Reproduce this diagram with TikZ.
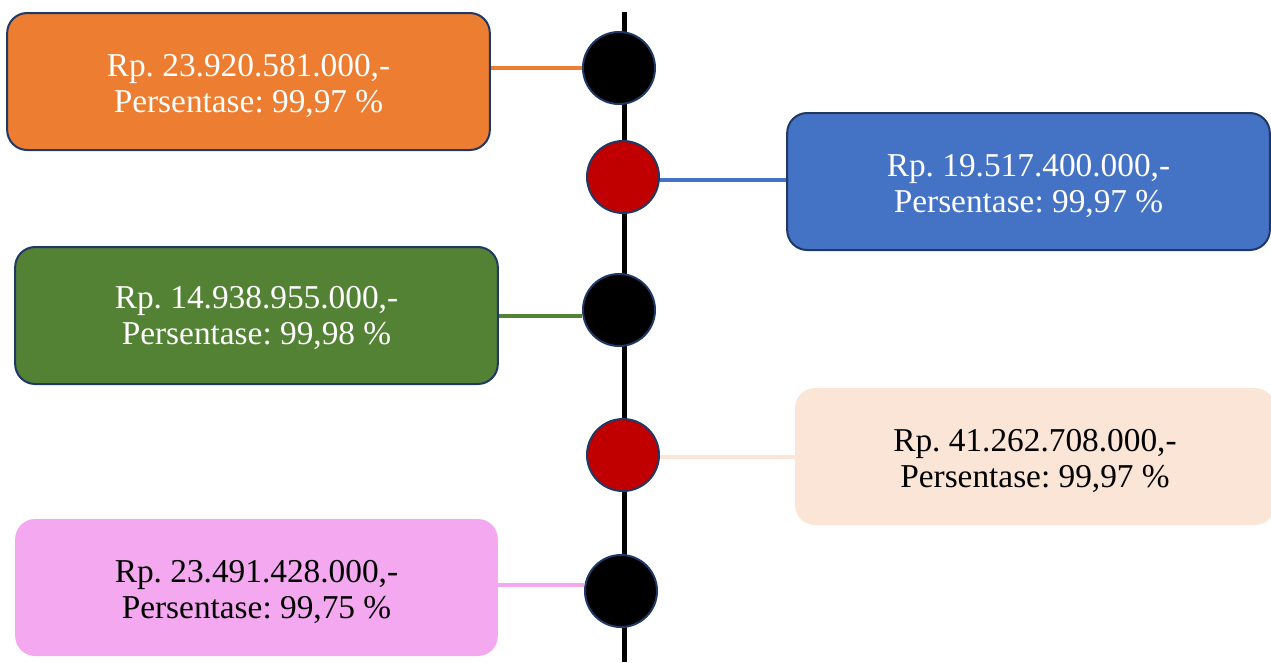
\documentclass[tikz,border=0pt]{standalone}
\usepackage{fontspec}
\setmainfont{Liberation Serif}
\frenchspacing
\usetikzlibrary{backgrounds}
\definecolor{borange}{HTML}{ED7D31}
\definecolor{bblue}{HTML}{4472C4}
\definecolor{bgreen}{HTML}{548235}
\definecolor{bpeach}{HTML}{FBE5D6}
\definecolor{bpink}{HTML}{F4A8F0}
\definecolor{navy}{HTML}{1F3864}
\definecolor{dotred}{HTML}{C00000}
\tikzset{
  box/.style={rectangle, rounded corners=15pt, minimum width=362pt, minimum height=102.75pt,
    inner sep=0pt},
  boxtext/.style={align=center, font=\fontsize{25}{27}\selectfont\frenchspacing, inner sep=0pt},
  framed/.style={draw=navy, line width=1.5pt},
  dot/.style={circle, minimum size=54pt, inner sep=0pt, draw=navy, line width=1.5pt},
  conn/.style={line width=2.6pt},
  axis/.style={line width=3.75pt, black}
}
\begin{document}
\begin{tikzpicture}[x=0.75pt, y=-0.75pt]
\useasboundingbox (0,0) rectangle (1271,662);
% boxes
\node[box, framed, fill=borange] (b1) at (248.5,81.5) {};
\node[box, framed, fill=bblue] (b2) at (1028.5,181.5) {};
\node[box, framed, fill=bgreen] (b3) at (256.5,315.5) {};
\node[box, fill=bpeach, minimum width=360pt] (b4) at (1035,456.5) {};
\node[box, fill=bpink] (b5) at (256.5,587.5) {};
\node[boxtext, text=white] (t1) at ([yshift=-3pt]b1.center) {Rp. 23.920.581.000,-\\Persentase: 99,97 \%};
\node[boxtext, text=white] (t2) at ([yshift=-3pt]b2.center) {Rp. 19.517.400.000,-\\Persentase: 99,97 \%};
\node[boxtext, text=white] (t3) at ([yshift=-2pt]b3.center) {Rp. 14.938.955.000,-\\Persentase: 99,98 \%};
\node[boxtext, text=black] (t4) at ([yshift=-3pt]b4.center) {Rp. 41.262.708.000,-\\Persentase: 99,97 \%};
\node[boxtext, text=black] (t5) at ([yshift=-3pt]b5.center) {Rp. 23.491.428.000,-\\Persentase: 99,75 \%};
% dots
\node[dot, fill=black] (c1) at (619,68) {};
\node[dot, fill=dotred] (c2) at (623,177) {};
\node[dot, fill=black] (c3) at (619,310) {};
\node[dot, fill=dotred] (c4) at (623,455) {};
\node[dot, fill=black] (c5) at (621,591) {};
\coordinate (top) at (624,12);
\coordinate (bot) at (624,662);
\coordinate (p2) at ([yshift=-2.25pt]c2.east);
\coordinate (p3) at ([yshift=-4.5pt]c3.west);
\coordinate (p4) at ([yshift=-1.5pt]c4.east);
\coordinate (p5) at ([yshift=4.5pt]c5.west);
\begin{scope}[on background layer]
\draw[axis] (top) -- (bot);
\draw[conn, borange] (c1.west) -- (b1.east |- c1.west);
\draw[conn, bblue] (p2) -- (b2.west |- p2);
\draw[conn, bgreen] (p3) -- (b3.east |- p3);
\draw[conn, bpeach] (p4) -- (b4.west |- p4);
\draw[conn, bpink] (p5) -- (b5.east |- p5);
\end{scope}
\end{tikzpicture}
\end{document}
